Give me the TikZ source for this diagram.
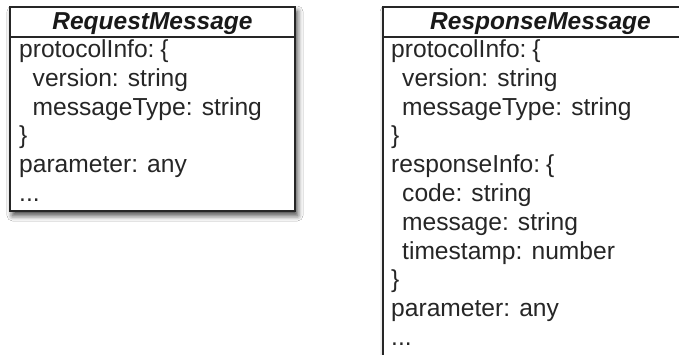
\documentclass[tikz,border=0pt]{standalone}
\usepackage{fontspec}
\setmainfont{Liberation Sans}
\usetikzlibrary{shadows.blur}
\tikzset{
  umlbox/.style={draw=black!85, line width=1.7pt, fill=white, inner sep=0pt,
    blur shadow={shadow xshift=2.5pt, shadow yshift=-4.5pt, shadow blur radius=5.5pt, shadow opacity=75}},
  divider/.style={draw=black!85, line width=1.7pt},
  txt/.style={anchor=base west, inner sep=0pt, text=black!85, font=\fontsize{24.6}{28}\selectfont},
  ttl/.style={anchor=base, inner sep=0pt, text=black!90, font=\fontsize{24.5}{28}\selectfont\bfseries\itshape}
}
\begin{document}
\begin{tikzpicture}[x=1pt,y=-1pt]
\useasboundingbox (0,0) rectangle (679,354);
\clip (0,0) rectangle (679,354);
\fill[white] (0,0) rectangle (679,354);
% Request box
\node[umlbox, minimum width=285pt, minimum height=204pt] (req) at (152.5,109) {};
\coordinate (reqdl) at (10,37);
\coordinate (reqdr) at (295,37);
\draw[divider] (reqdl) -- (reqdr);
\node[ttl] (reqtitle) at (152.5,29) {RequestMessage};
\node[txt] (q1) at (19,57.5) {protocolInfo:\kern-1pt\ \{};
\node[txt] (q2) at (32.5,86.3) {version: string};
\node[txt] (q3) at (32.5,115.1) {messageType: string};
\node[txt] (q4) at (19,143.9) {\}};
\node[txt] (q5) at (19,172.7) {parameter: any};
\node[txt] (q6) at (19,201.5) {...};
% Response box
\node[umlbox, minimum width=315pt, minimum height=349pt] (resp) at (540.5,181.5) {};
\coordinate (respdl) at (383,37);
\coordinate (respdr) at (698,37);
\draw[divider] (respdl) -- (respdr);
\node[ttl] (resptitle) at (540.5,29) {ResponseMessage};
\node[txt] (p1) at (391,57.5) {protocolInfo:\kern-1pt\ \{};
\node[txt] (p2) at (402,86.3) {version: string};
\node[txt] (p3) at (402,115.1) {messageType: string};
\node[txt] (p4) at (391,143.9) {\}};
\node[txt] (p5) at (391,172.7) {responseInfo:\kern-1pt\ \{};
\node[txt] (p6) at (402,201.5) {code: string};
\node[txt] (p7) at (402,230.3) {message: string};
\node[txt] (p8) at (402,259.1) {timestamp: number};
\node[txt] (p9) at (391,287.9) {\}};
\node[txt] (p10) at (391,316.7) {parameter: any};
\node[txt] (p11) at (391,345.5) {...};
\end{tikzpicture}
\end{document}
